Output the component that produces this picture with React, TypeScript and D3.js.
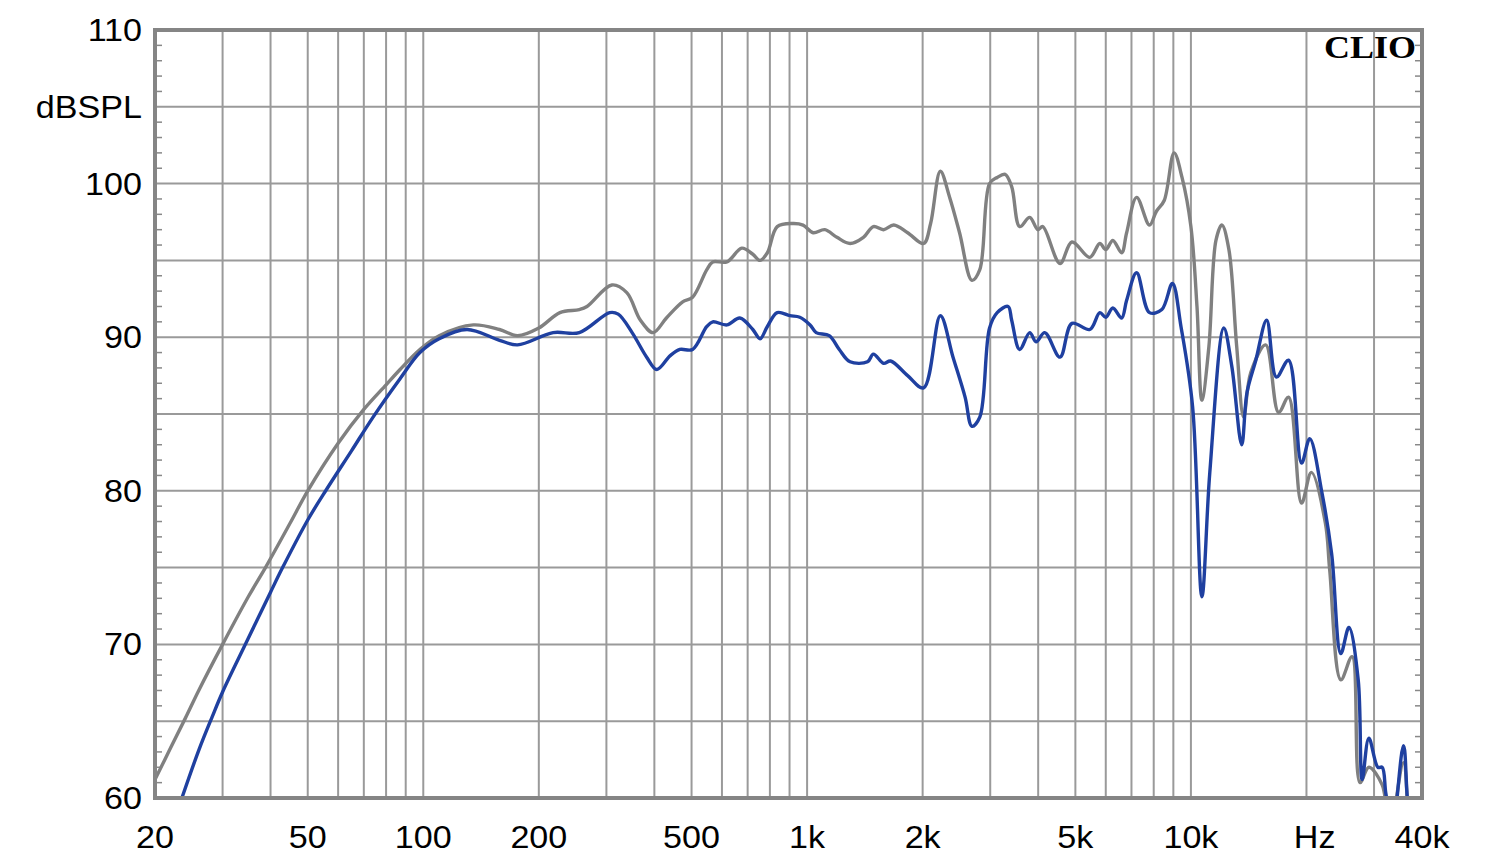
import React, { useEffect, useRef } from 'react'
import * as d3 from 'd3'

// frequency response (Hz / dB SPL)
const grayFreq = [20, 22, 24, 26, 30, 35, 39, 45, 50, 60, 70, 80, 87, 98, 110, 135, 158, 176, 200, 227, 255, 267, 310, 339, 368, 397, 430, 474, 503, 548, 568, 618, 676, 722, 754, 788, 836, 918, 976, 1037, 1112, 1196, 1294, 1402, 1488, 1582, 1682, 1828, 2012, 2098, 2224, 2352, 2496, 2688, 2818, 2988, 3128, 3280, 3412, 3580, 3802, 3992, 4112, 4560, 4898, 5452, 5790, 6000, 6260, 6600, 6800, 7220, 7800, 8130, 8520, 9040, 9480, 10000, 10370, 10680, 11140, 11620, 12040, 12560, 13160, 13720, 14320, 15660, 16920, 17960, 19420, 20600, 22400, 23000, 24580, 26300, 27580, 29080, 31500, 33000, 35800, 37500, 40000]
const grayDb = [61.2, 63.3, 65.2, 67.0, 70.0, 73.1, 75.1, 77.9, 80.0, 83.1, 85.3, 86.9, 87.9, 89.2, 90.1, 90.8, 90.5, 90.1, 90.6, 91.6, 91.8, 92.0, 93.4, 92.9, 91.1, 90.3, 91.25, 92.3, 92.6, 94.4, 94.9, 94.9, 95.8, 95.4, 95.0, 95.5, 97.2, 97.4, 97.3, 96.8, 97.0, 96.5, 96.1, 96.5, 97.2, 97.0, 97.3, 96.8, 96.1, 97.4, 100.8, 99.1, 96.8, 93.7, 94.4, 100.0, 100.4, 100.6, 99.8, 97.2, 97.8, 97.0, 97.2, 94.8, 96.2, 95.2, 96.1, 95.7, 96.3, 95.5, 96.8, 99.1, 97.3, 98.2, 98.9, 102.0, 100.4, 97.2, 92.0, 85.9, 89.4, 96.3, 97.3, 95.7, 89.4, 84.8, 87.7, 89.5, 85.1, 86.1, 79.2, 81.2, 77.9, 74.8, 67.7, 69.2, 61.0, 62.0, 60.85, 58, 62.3, 58, 57]

const blueFreq = [22.5, 23.5, 26, 28.2, 30, 34.7, 40, 43, 50, 56, 65, 74, 87, 98, 110, 130, 158, 176, 218, 255, 306, 322, 350, 382, 406, 440, 466, 503, 548, 568, 618, 668, 722, 754, 788, 836, 902, 957, 1018, 1056, 1142, 1213, 1294, 1437, 1488, 1582, 1650, 1828, 2012, 2224, 2400, 2580, 2688, 2818, 2988, 3128, 3340, 3412, 3580, 3802, 3950, 4160, 4560, 4898, 5452, 5790, 6000, 6260, 6600, 6800, 7220, 7800, 8400, 8950, 9420, 10100, 10680, 11200, 12180, 12780, 13560, 14000, 14760, 15750, 16700, 17960, 19420, 20400, 21900, 23260, 24580, 25800, 27280, 27940, 29080, 30700, 31500, 32200, 33500, 35800, 37500, 40000]
const blueDb = [58.6, 60, 63.1, 65.3, 66.9, 70.2, 73.4, 75, 78.1, 80.1, 82.6, 84.8, 87.3, 89, 89.9, 90.5, 89.8, 89.5, 90.3, 90.3, 91.6, 91.5, 90.3, 88.7, 87.9, 88.8, 89.2, 89.2, 90.7, 91.0, 90.8, 91.25, 90.5, 89.9, 90.7, 91.6, 91.4, 91.3, 90.8, 90.3, 90.1, 89.2, 88.4, 88.4, 88.9, 88.3, 88.45, 87.5, 86.7, 91.4, 88.7, 86.1, 84.2, 84.8, 90.6, 91.6, 92.0, 91.1, 89.2, 90.3, 89.7, 90.3, 88.7, 90.9, 90.5, 91.6, 91.3, 91.9, 91.25, 92.4, 94.2, 91.6, 91.8, 93.5, 90.7, 85.5, 73.1, 81.2, 90.6, 88.1, 83.0, 86.4, 88.5, 91.1, 87.4, 88.5, 81.8, 83.4, 80.0, 75.9, 69.4, 71.1, 67.7, 61.2, 63.9, 62.0, 62.0, 60.3, 58, 63.4, 58, 57]

const xTicks = [20, 50, 100, 200, 500, 1000, 2000, 5000, 10000, 40000]
const xTickLabels = ['20', '50', '100', '200', '500', '1k', '2k', '5k', '10k', '40k']
const yTicks = [60, 70, 80, 90, 100, 110]

const width = 1500
const height = 866
const left = 155, right = 1422, top = 30, bottom = 798

export default function App() {
    const ref = useRef(null)

    useEffect(() => {
        const svg = d3.select(ref.current)
        svg.selectAll('*').remove()

        const x = d3.scaleLog().domain([20, 40000]).range([left, right])
        const y = d3.scaleLinear().domain([60, 110]).range([bottom, top])

        const gridColor = '#9a9a9a'
        const font = '"Liberation Sans", Arial, sans-serif'

        // vertical grid: every 1-2-3..9 of each decade
        const vlines = []
        for (let dec = 10; dec <= 10000; dec *= 10)
            for (let m = 1; m <= 9; m++) {
                const f = dec * m
                if (f > 20 && f < 40000) vlines.push(f)
            }
        svg.append('g').selectAll('line').data(vlines).join('line')
            .attr('x1', d => x(d)).attr('x2', d => x(d))
            .attr('y1', top).attr('y2', bottom)
            .attr('stroke', gridColor).attr('stroke-width', 2)

        // horizontal grid every 5 dB
        svg.append('g').selectAll('line').data(d3.range(65, 110, 5)).join('line')
            .attr('x1', left).attr('x2', right)
            .attr('y1', d => y(d)).attr('y2', d => y(d))
            .attr('stroke', gridColor).attr('stroke-width', 2)

        // 1 dB minor ticks on left and right edges
        const minor = d3.range(61, 110).filter(d => d % 5 !== 0)
        svg.append('g').selectAll('line').data(minor).join('line')
            .attr('x1', left).attr('x2', left + 7)
            .attr('y1', d => y(d)).attr('y2', d => y(d))
            .attr('stroke', '#888').attr('stroke-width', 1.5)
        svg.append('g').selectAll('line').data(minor).join('line')
            .attr('x1', right - 7).attr('x2', right)
            .attr('y1', d => y(d)).attr('y2', d => y(d))
            .attr('stroke', '#888').attr('stroke-width', 1.5)

        svg.append('clipPath').attr('id', 'plot-clip')
            .append('rect').attr('x', left).attr('y', top)
            .attr('width', right - left).attr('height', bottom - top)

        const line = d3.line<[number, number]>()
            .x(d => x(d[0])).y(d => y(d[1]))
            .curve(d3.curveCatmullRom.alpha(0.5))

        const series = [
            { f: grayFreq, v: grayDb, color: '#808080' },
            { f: blueFreq, v: blueDb, color: '#1f40a0' },
        ]
        svg.append('g').attr('clip-path', 'url(#plot-clip)')
            .selectAll('path').data(series).join('path')
            .attr('fill', 'none')
            .attr('stroke', d => d.color)
            .attr('stroke-width', 3.4)
            .attr('stroke-linejoin', 'round')
            .attr('d', d => line(d.f.map((f, i) => [f, d.v[i]] as [number, number])))

        // frame
        svg.append('rect')
            .attr('x', left).attr('y', top)
            .attr('width', right - left).attr('height', bottom - top)
            .attr('fill', 'none').attr('stroke', '#858585').attr('stroke-width', 4)

        // labels are a bit wider than plain Arial in the original
        const label = (g, tx, ty, anchor, txt) =>
            g.append('text')
                .attr('transform', `translate(${tx},${ty}) scale(1.1,1)`)
                .attr('text-anchor', anchor)
                .attr('font-family', font).attr('font-size', 31)
                .text(txt)

        yTicks.forEach(d => label(svg, 142, y(d) + 11, 'end', d))
        label(svg, 142, y(105) + 11, 'end', 'dBSPL')

        xTicks.forEach((d, i) => label(svg, x(d), 848, 'middle', xTickLabels[i]))
        label(svg, x(21000), 848, 'middle', 'Hz')

        svg.append('text')
            .attr('x', 1416).attr('y', 58)
            .attr('text-anchor', 'end')
            .attr('font-family', '"Liberation Serif", "DejaVu Serif", serif')
            .attr('font-weight', 'bold').attr('font-size', 32)
            .attr('textLength', 92).attr('lengthAdjust', 'spacingAndGlyphs')
            .text('CLIO')
    }, [])

    return (
        <svg ref={ref} width={width} height={height}
            style={{ position: 'absolute', left: 0, top: 0, background: '#fff' }} />
    )
}
